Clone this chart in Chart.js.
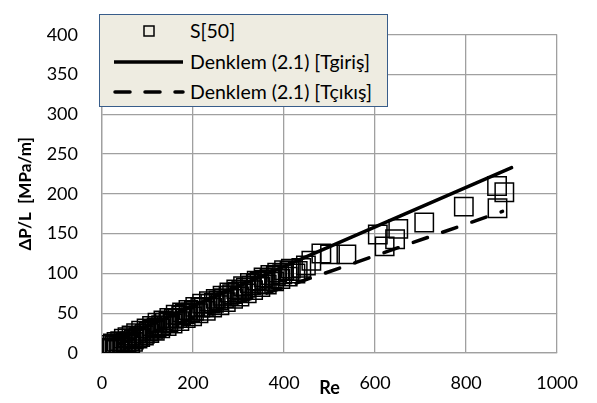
<!DOCTYPE html>
<html>
<head>
<meta charset="utf-8">
<script src="https://cdn.jsdelivr.net/npm/chart.js@4/dist/chart.umd.min.js"></script>
<style>
  body { margin: 0; background: #fff; }
  #wrap { position: relative; width: 597px; height: 403px; }
  #legend {
    position: absolute; left: 99px; top: 14px; width: 287px; height: 91px;
    background: #eeece1; border: 1.5px solid #385d8a;
    font-family: Lato, sans-serif; font-size: 19.5px; color: #000;
  }
  .row { position: absolute; left: 0; width: 100%; height: 24px; line-height: 24px; }
  .row svg { position: absolute; left: 13px; top: 0; }
  .row span { position: absolute; left: 90px; top: 0; white-space: nowrap; }
</style>
</head>
<body>
<div id="wrap">
  <canvas id="c" width="597" height="403"></canvas>
  <div id="legend">
    <div class="row" style="top:4px">
      <svg width="72" height="24"><rect x="31" y="7" width="10" height="10" fill="none" stroke="#000" stroke-width="1.5"/></svg>
      <span>S[50]</span>
    </div>
    <div class="row" style="top:35px">
      <svg width="72" height="24"><line x1="1" y1="12" x2="70" y2="12" stroke="#000" stroke-width="3.5"/></svg>
      <span>Denklem (2.1) [Tgiriş]</span>
    </div>
    <div class="row" style="top:65px">
      <svg width="72" height="24"><line x1="2" y1="12" x2="70" y2="12" stroke="#000" stroke-width="3.5" stroke-linecap="round" stroke-dasharray="15 15"/></svg>
      <span>Denklem (2.1) [Tçıkış]</span>
    </div>
  </div>
</div>
<script>
// S[50] measurements
var reS = [8, 15, 20, 24, 28, 32, 36, 40, 44, 48, 52, 56, 60, 65, 70, 75, 80, 86, 92, 98,
  104, 110, 116, 122, 128, 135, 142, 148, 155, 162, 170, 176, 184, 190, 198, 205, 212, 220,
  228, 235, 242, 250, 258, 265, 272, 280, 288, 295, 302, 310, 318, 325, 332, 340, 348, 355,
  362, 370, 378, 385, 392, 400, 408, 415, 425, 438, 460, 482, 501, 537, 606, 621, 644, 651,
  708, 795, 868, 869, 884,
  22, 30, 38, 46, 54, 62, 68, 78, 84, 94, 102, 112, 120, 130, 138, 146, 158, 166, 174, 182,
  194, 202, 216, 224, 238, 246, 256, 268, 278, 286, 298, 306, 316, 328, 338, 346, 358, 368,
  382, 396, 412, 430, 448];
var dpS = [6, 10, 7, 12, 9, 14, 10, 15, 12, 18, 13, 20, 15, 22, 17, 25, 20, 28, 22, 31,
  25, 34, 28, 38, 31, 41, 34, 44, 37, 48, 40, 51, 44, 54, 46, 58, 50, 62,
  53, 65, 57, 68, 60, 72, 64, 76, 68, 80, 71, 84, 75, 88, 79, 91, 83, 95,
  86, 98, 90, 101, 93, 104, 96, 106, 100, 107, 116, 125, 124, 124, 149, 134, 143, 156,
  164, 184, 210, 182, 202,
  5, 4, 7, 8, 10, 12, 14, 18, 20, 24, 27, 29, 32, 35, 38, 39, 43, 44, 47, 49,
  51, 53, 57, 58, 62, 63, 66, 69, 72, 74, 77, 79, 82, 85, 87, 90, 92, 94,
  97, 99, 103, 103, 110];

// Denklem (2.1), inlet temperature
var reIn = [40, 389, 900];
var dpIn = [19, 106, 233];
// Denklem (2.1), outlet temperature
var reOut = [40, 478, 880];
var dpOut = [12, 98, 178];

function pts(xs, ys) {
  var out = [];
  for (var i = 0; i < xs.length; i++) out.push({x: xs[i], y: ys[i]});
  return out;
}

var gridColor = '#a0a0a0';
var tickFont = {family: 'Lato', size: 18};
var plain = function (v) { return String(v); };

new Chart(document.getElementById('c').getContext('2d'), {
  type: 'scatter',
  data: {
    datasets: [{
      label: 'S[50]',
      data: pts(reS, dpS),
      pointStyle: 'rect',
      pointRadius: 13,
      borderColor: '#000',
      backgroundColor: 'rgba(0,0,0,0)',
      pointBorderWidth: 1.5,
      order: 2
    }, {
      label: 'Denklem (2.1) [Tgiriş]',
      data: pts(reIn, dpIn),
      showLine: true,
      pointRadius: 0,
      borderColor: '#000',
      borderWidth: 3.5,
      borderCapStyle: 'round',
      order: 1
    }, {
      label: 'Denklem (2.1) [Tçıkış]',
      data: pts(reOut, dpOut),
      showLine: true,
      pointRadius: 0,
      borderColor: '#000',
      borderWidth: 3.5,
      borderDash: [15, 16],
      borderCapStyle: 'round',
      order: 1
    }]
  },
  options: {
    responsive: false,
    animation: false,
    layout: { padding: { left: 0, top: 15, right: 36, bottom: 0 } },
    plugins: { legend: { display: false }, tooltip: { enabled: false } },
    scales: {
      x: {
        min: 0, max: 1000,
        ticks: { stepSize: 200, padding: 19, color: '#000', font: tickFont, callback: plain },
        grid: { color: gridColor, lineWidth: 1.3, drawTicks: false },
        border: { color: gridColor, width: 1.3 },
        title: { display: true, text: 'Re', color: '#000',
          font: {family: 'Lato', size: 18, weight: 'bold'}, padding: {top: 0, bottom: 4} },
        afterFit: function (s) { s.height = 50; }
      },
      y: {
        min: 0, max: 400,
        ticks: { stepSize: 50, padding: 24, color: '#000', font: tickFont, callback: plain },
        grid: { color: gridColor, lineWidth: 1.3, drawTicks: false },
        border: { color: gridColor, width: 1.3 },
        title: { display: true, text: 'ΔP/L  [MPa/m]', color: '#000',
          font: {family: 'Lato', size: 17, weight: 'bold'}, padding: {top: 15, bottom: 0} },
        afterFit: function (s) { s.width = 102; }
      }
    }
  }
});
</script>
</body>
</html>
